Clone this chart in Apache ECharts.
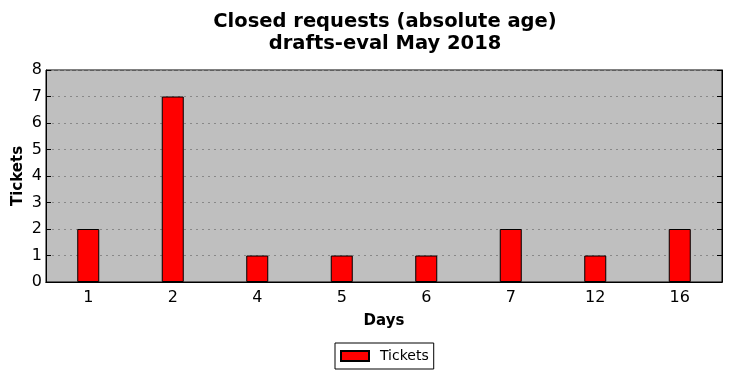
<!DOCTYPE html>
<html>
<head>
<meta charset="utf-8">
<script src="https://cdn.jsdelivr.net/npm/echarts@6/dist/echarts.min.js"></script>
<style>
  html, body { margin: 0; padding: 0; background: #fff; }
  #chart { width: 732px; height: 378px; }
</style>
</head>
<body>
<div id="chart"></div>
<script>
// data
var days = ['1', '2', '4', '5', '6', '7', '12', '16'];
var tickets = [2, 7, 1, 1, 1, 2, 1, 2];
var yTicks = [0, 1, 2, 3, 4, 5, 6, 7, 8];

var font = 'DejaVu Sans';
var chart = echarts.init(document.getElementById('chart'));

var option = {
  animation: false,
  textStyle: { fontFamily: font },
  title: {
    text: 'Closed requests (absolute age)\ndrafts-eval May 2018',
    left: 380,
    textAlign: 'center',
    top: 6,
    textStyle: { fontFamily: font, fontSize: 19.5, fontWeight: 'bold', color: '#000', lineHeight: 22 }
  },
  legend: {
    data: [{ name: 'Tickets', icon: 'rect' }],
    top: 343,
    left: 335,
    padding: [6, 5, 6, 5],
    borderColor: '#000',
    borderWidth: 1,
    borderRadius: 0,
    itemWidth: 28,
    itemHeight: 10,
    textStyle: { fontFamily: font, fontSize: 14, color: '#000', padding: [0, 0, 0, 6] }
  },
  grid: {
    left: 46, right: 10, top: 70, bottom: 96,
    outerBoundsMode: 'none',
    containLabel: false,
    show: true, backgroundColor: '#bfbfbf', borderColor: '#000', borderWidth: 1
  },
  xAxis: [{
    type: 'category',
    data: days,
    name: 'Days',
    nameLocation: 'middle',
    nameGap: 32,
    nameMoveOverlap: false,
    nameTextStyle: { fontFamily: font, fontSize: 15, fontWeight: 'bold', color: '#000' },
    axisLine: { lineStyle: { color: '#000' } },
    axisTick: { inside: true, alignWithLabel: true, length: 5, lineStyle: { color: '#000' } },
    axisLabel: { fontFamily: font, fontSize: 16, color: '#000', margin: 8 },
    splitLine: { show: false }
  }, {
    type: 'category',
    data: days,
    position: 'top',
    axisLine: { lineStyle: { color: '#000' } },
    axisTick: { inside: true, alignWithLabel: true, length: 5, lineStyle: { color: '#000' } },
    axisLabel: { show: false }
  }],
  yAxis: [{
    type: 'value',
    min: 0,
    max: 8,
    interval: 1,
    name: 'Tickets',
    nameLocation: 'middle',
    nameGap: 20,
    nameMoveOverlap: false,
    nameTextStyle: { fontFamily: font, fontSize: 15, fontWeight: 'bold', color: '#000' },
    axisLine: { show: true, lineStyle: { color: '#000' } },
    axisTick: { show: true, inside: true, length: 5, lineStyle: { color: '#000' } },
    axisLabel: {
      fontFamily: font, fontSize: 16, color: '#000', margin: 4,
      formatter: function (v) { return yTicks.indexOf(v) >= 0 ? String(v) : ''; }
    },
    splitLine: { show: true, lineStyle: { color: '#888', type: [2, 4], width: 1 } }
  }, {
    type: 'value',
    min: 0,
    max: 8,
    interval: 1,
    position: 'right',
    axisLine: { show: true, lineStyle: { color: '#000' } },
    axisTick: { show: true, inside: true, length: 5, lineStyle: { color: '#000' } },
    axisLabel: { show: false },
    splitLine: { show: false }
  }],
  series: [{
    name: 'Tickets',
    type: 'bar',
    data: tickets,
    barWidth: 22,
    itemStyle: { color: '#ff0000', borderColor: '#000', borderWidth: 1 }
  }]
};

chart.setOption(option);
</script>
</body>
</html>
